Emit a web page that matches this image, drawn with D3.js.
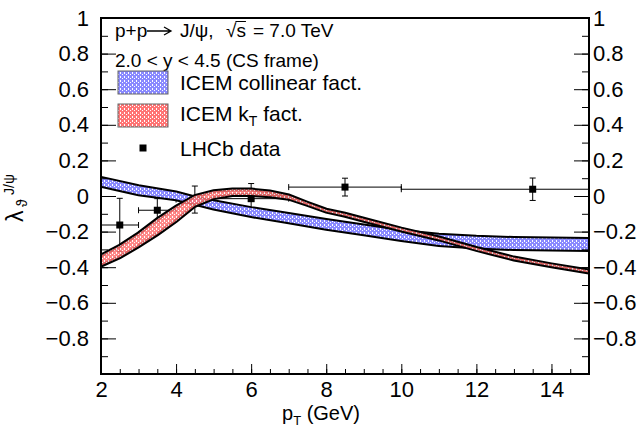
<!DOCTYPE html>
<html lang="en">
<head>
<meta charset="UTF-8">
<title>lambda theta J/psi</title>
<script src="https://d3js.org/d3.v7.min.js"></script>
<style>
  body { margin: 0; background: #fff; }
  svg { display: block; font-family: "Liberation Sans", Arial, Helvetica, sans-serif; }
</style>
</head>
<body>
<svg id="chart" width="644" height="429"></svg>
<script>
// LHCb points (pT bin edges, marker position, value, stat error)
const lhcbPt   = [2.5, 3.5, 4.5, 6.0, 8.5, 13.5];
const lhcbPtLo = [2, 3, 4, 5, 7, 10];
const lhcbPtHi = [3, 4, 5, 7, 10, 15];
const lhcbLam  = [-0.163, -0.08, -0.02, -0.015, 0.05, 0.038];
const lhcbErr  = [0.15, 0.065, 0.076, 0.085, 0.05, 0.063];

// ICEM collinear factorization band
const collPt = [2, 3, 4, 4.5, 5, 6, 7, 8, 9, 10, 11, 12, 13, 14, 15];
const collHi = [0.102, 0.055, 0.02, -0.008, -0.03, -0.068, -0.101, -0.135, -0.166, -0.197, -0.217, -0.229, -0.236, -0.239, -0.241];
const collLo = [0.058, 0.01, -0.018, -0.044, -0.07, -0.113, -0.148, -0.184, -0.215, -0.247, -0.275, -0.29, -0.298, -0.301, -0.303];

// ICEM kT factorization band
const ktPt = [2, 2.5, 3, 3.5, 4, 4.5, 5, 5.5, 6, 6.5, 7, 7.5, 8, 8.5, 9, 10, 11, 12, 13, 14, 15];
const ktHi = [-0.334, -0.279, -0.21, -0.13, -0.06, 0.0, 0.027, 0.037, 0.036, 0.025, 0.003, -0.038, -0.077, -0.1, -0.128, -0.183, -0.233, -0.292, -0.346, -0.384, -0.419];
const ktLo = [-0.391, -0.344, -0.283, -0.215, -0.14, -0.055, -0.012, 0.005, 0.006, -0.002, -0.015, -0.05, -0.088, -0.111, -0.139, -0.194, -0.244, -0.303, -0.357, -0.395, -0.43];

// axis ticks
const xMajor = [2, 4, 6, 8, 10, 12, 14];
const xMinor = d3.range(2, 15.01, 0.5);
const yMajor = [-0.8, -0.6, -0.4, -0.2, 0, 0.2, 0.4, 0.6, 0.8, 1];
const yMinor = d3.range(-1, 1.001, 0.1);

const padL = 101, padR = 589, padT = 18, padB = 374;
const font = 21, tickFont = 22;

const svg = d3.select("#chart");
const x = d3.scaleLinear().domain([2, 15]).range([padL, padR]);
const y = d3.scaleLinear().domain([-1, 1]).range([padB, padT]);

// hatch-like fills
const defs = svg.append("defs");
function pattern(id, base) {
  const p = defs.append("pattern").attr("id", id)
    .attr("patternUnits", "userSpaceOnUse").attr("width", 4).attr("height", 4);
  p.append("rect").attr("width", 4).attr("height", 4).attr("fill", base);
  p.append("rect").attr("x", 0).attr("y", 0).attr("width", 1).attr("height", 2).attr("fill", "#fff");
  p.append("rect").attr("x", 2).attr("y", 2).attr("width", 1).attr("height", 1).attr("fill", "#fff");
}
pattern("pBlue", "#8a8aff");
pattern("pRed", "#ff7474");

const fmt = v => v === 0 ? "0" : (v < 0 ? "\u2212" : "") + d3.format("~g")(Math.abs(v));

// data points (drawn under the bands)
const gData = svg.append("g").attr("stroke", "#000").attr("stroke-width", 1);
lhcbPt.forEach((p, i) => {
  const cy = y(lhcbLam[i]);
  gData.append("line").attr("x1", x(lhcbPtLo[i])).attr("x2", x(lhcbPtHi[i])).attr("y1", cy).attr("y2", cy);
  gData.append("line").attr("x1", x(lhcbPtLo[i])).attr("x2", x(lhcbPtLo[i])).attr("y1", cy - 3).attr("y2", cy + 3);
  gData.append("line").attr("x1", x(lhcbPtHi[i])).attr("x2", x(lhcbPtHi[i])).attr("y1", cy - 3).attr("y2", cy + 3);
  const y1 = y(lhcbLam[i] + lhcbErr[i]), y2 = y(lhcbLam[i] - lhcbErr[i]);
  gData.append("line").attr("x1", x(p)).attr("x2", x(p)).attr("y1", y1).attr("y2", y2);
  gData.append("line").attr("x1", x(p) - 3).attr("x2", x(p) + 3).attr("y1", y1).attr("y2", y1);
  gData.append("line").attr("x1", x(p) - 3).attr("x2", x(p) + 3).attr("y1", y2).attr("y2", y2);
  gData.append("rect").attr("x", x(p) - 3.5).attr("y", cy - 3.5).attr("width", 7).attr("height", 7)
    .attr("fill", "#000").attr("stroke", "none");
});

// bands: thick black edges first, pattern fill on top
function band(pts, hi, lo, fillId, opacity) {
  const idx = d3.range(pts.length);
  const edge = arr => d3.line().x(i => x(pts[i])).y(i => y(arr[i]));
  const g = svg.append("g");
  g.append("path").attr("d", edge(hi)(idx)).attr("fill", "none").attr("stroke", "#000").attr("stroke-width", 4);
  g.append("path").attr("d", edge(lo)(idx)).attr("fill", "none").attr("stroke", "#000").attr("stroke-width", 4);
  g.append("path")
    .attr("d", d3.area().x(i => x(pts[i])).y0(i => y(lo[i])).y1(i => y(hi[i]))(idx))
    .attr("fill", `url(#${fillId})`).attr("fill-opacity", opacity);
}
band(collPt, collHi, collLo, "pBlue", 1);
band(ktPt, ktHi, ktLo, "pRed", 0.85);

// axes
function styleAxis(g) {
  g.select(".domain").remove();
  g.selectAll(".tick line").attr("stroke", "#000").attr("stroke-width", 1);
  g.selectAll("text").attr("font-size", tickFont).attr("fill", "#000");
  g.attr("font-family", null);
}
svg.append("g").attr("transform", `translate(${padL},0)`)
  .call(d3.axisLeft(y).tickValues(yMinor).tickSize(-7).tickFormat("")).call(styleAxis);
svg.append("g").attr("transform", `translate(${padL},0)`)
  .call(d3.axisLeft(y).tickValues(yMajor).tickSize(-15).tickPadding(12).tickFormat(fmt)).call(styleAxis);
svg.append("g").attr("transform", `translate(${padR},0)`)
  .call(d3.axisRight(y).tickValues(yMinor).tickSize(-7).tickFormat("")).call(styleAxis);
svg.append("g").attr("transform", `translate(${padR},0)`)
  .call(d3.axisRight(y).tickValues(yMajor).tickSize(-15).tickPadding(4).tickFormat(fmt)).call(styleAxis);
svg.append("g").attr("transform", `translate(0,${padB})`)
  .call(d3.axisBottom(x).tickValues(xMinor).tickSize(-5).tickFormat("")).call(styleAxis);
svg.append("g").attr("transform", `translate(0,${padB})`)
  .call(d3.axisBottom(x).tickValues(xMajor).tickSize(-10).tickPadding(7).tickFormat(d3.format("d"))).call(styleAxis);

svg.append("rect").attr("x", padL).attr("y", padT).attr("width", padR - padL).attr("height", padB - padT)
  .attr("fill", "none").attr("stroke", "#000").attr("stroke-width", 2);

// axis titles
const xt = svg.append("text").attr("x", 282).attr("y", 420).attr("font-size", 20);
xt.append("tspan").text("p");
xt.append("tspan").attr("dy", 5).attr("font-size", 13).text("T");
xt.append("tspan").attr("dy", -5).text(" (GeV)");

const yt = svg.append("g").attr("transform", "translate(23,222) rotate(-90)");
yt.append("text").attr("x", 0).attr("y", 0).attr("font-size", 23).text("\u03bb");
yt.append("text").attr("x", 15).attr("y", 4).attr("font-size", 14).text("\u03d1");
yt.append("text").attr("x", 27).attr("y", -9).attr("font-size", 14).text("J/\u03c8");

// header text
const hFont = 19;
svg.append("text").attr("x", 115).attr("y", 37).attr("font-size", hFont).text("p+p");
svg.append("path").attr("d", "M147,31H170M164,27L171,31L164,35")
  .attr("fill", "none").attr("stroke", "#000").attr("stroke-width", 1.3);
svg.append("text").attr("x", 180).attr("y", 37).attr("font-size", hFont).text("J/\u03c8,");
const rs = svg.append("text").attr("x", 226).attr("y", 37).attr("font-size", hFont).text("\u221as");
const ext = rs.node().getExtentOfChar(1);
const rootExt = rs.node().getExtentOfChar(0);
svg.append("line").attr("x1", rootExt.x + rootExt.width - 1).attr("x2", ext.x + ext.width)
  .attr("y1", rootExt.y + 1.5).attr("y2", rootExt.y + 1.5).attr("stroke", "#000").attr("stroke-width", 1);
svg.append("text").attr("x", 253).attr("y", 37).attr("font-size", hFont).text("= 7.0 TeV");
svg.append("text").attr("x", 115).attr("y", 67).attr("font-size", hFont).text("2.0 < y < 4.5 (CS frame)");

// legend
svg.append("rect").attr("x", 118).attr("y", 71).attr("width", 50).attr("height", 23)
  .attr("fill", "url(#pBlue)").attr("stroke", "#666");
svg.append("rect").attr("x", 118).attr("y", 104).attr("width", 50).attr("height", 23)
  .attr("fill", "url(#pRed)").attr("stroke", "#666");
svg.append("rect").attr("x", 139.5).attr("y", 144.5).attr("width", 7).attr("height", 7).attr("fill", "#000");
svg.append("text").attr("x", 180).attr("y", 90).attr("font-size", font).text("ICEM collinear fact.");
const lk = svg.append("text").attr("x", 180).attr("y", 121).attr("font-size", font);
lk.append("tspan").text("ICEM k");
lk.append("tspan").attr("dy", 5).attr("font-size", 14).text("T");
lk.append("tspan").attr("dy", -5).text(" fact.");
svg.append("text").attr("x", 180).attr("y", 156).attr("font-size", font).text("LHCb data");
</script>
</body>
</html>
